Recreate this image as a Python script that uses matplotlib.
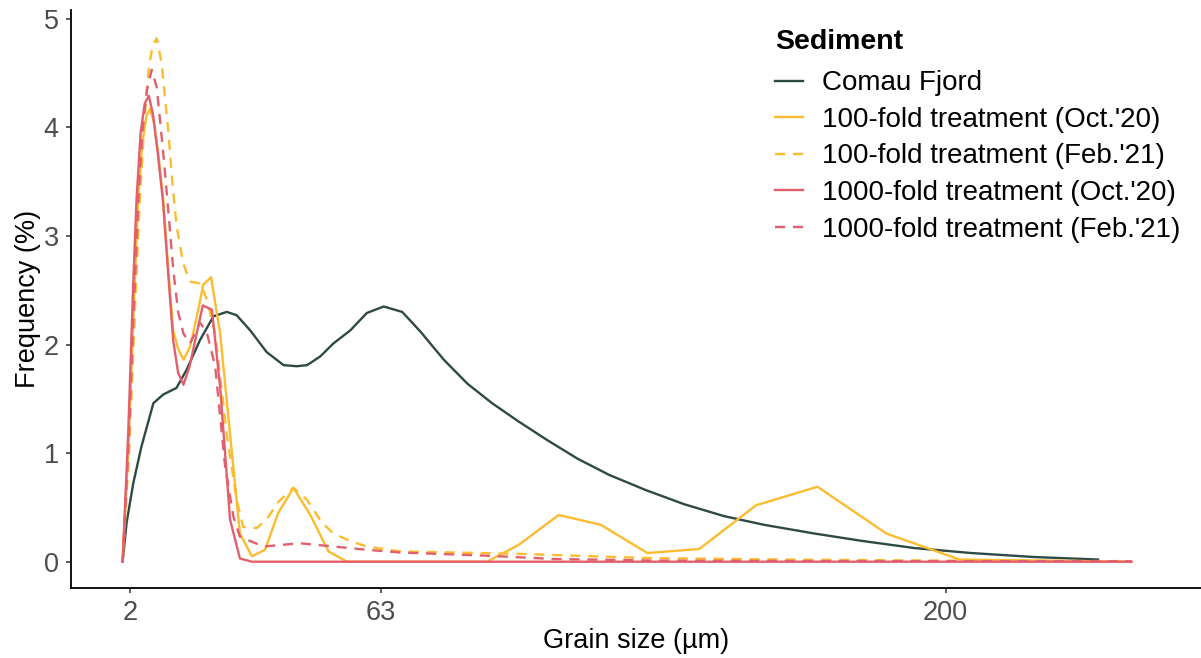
import matplotlib
matplotlib.use("Agg")
import matplotlib.pyplot as plt

plt.rcParams['font.family'] = ['Liberation Sans', 'DejaVu Sans']

# grain size (um) / frequency (%)
comau_x = [0.23, 1.2, 2.8, 4.8, 7.7, 10.1, 13.3, 15.8, 19.0, 22.3, 25.5, 27.9, 31.2,
           35.2, 39.3, 42.5, 45.0, 48.2, 51.4, 55.5, 59.5, 63.6, 68.1, 72.5, 78.2,
           83.9, 89.9, 96.4, 103.3, 110.6, 118.3, 127.2, 136.5, 146.2, 155.9, 168.1,
           180.0, 192.4, 206.2, 221.6, 237.0]
comau_y = [0, 0.36, 0.72, 1.06, 1.46, 1.54, 1.60, 1.77, 2.04, 2.26, 2.30, 2.27, 2.13,
           1.93, 1.81, 1.80, 1.81, 1.89, 2.01, 2.13, 2.29, 2.35, 2.30, 2.12, 1.86,
           1.64, 1.46, 1.29, 1.12, 0.95, 0.80, 0.66, 0.53, 0.42, 0.34, 0.26,
           0.19, 0.126, 0.08, 0.043, 0.02]

t100_oct_x = [0.23, 1.7, 3.0, 4.0, 5.0, 6.0, 6.9, 7.8, 8.9, 10.1, 11.3, 12.5, 13.7,
              15.0, 16.6, 18.2, 19.8, 21.7, 23.9, 26.3, 28.7, 31.6, 34.8, 38.0, 41.7,
              45.8, 50.2, 54.7, 88.7, 96.4, 106.1, 116.3, 127.6, 140.2, 154.0, 168.9,
              185.6, 203.4, 245.1]
t100_oct_y = [0, 1.1, 2.4, 3.33, 3.85, 4.10, 4.17, 4.05, 3.75, 3.33, 2.70, 2.13, 1.96,
              1.86, 1.98, 2.25, 2.55, 2.62, 2.10, 1.18, 0.26, 0.05, 0.11, 0.45, 0.68,
              0.43, 0.095, 0, 0, 0.156, 0.43, 0.34, 0.08, 0.117, 0.52, 0.69,
              0.26, 0.02, 0]

t100_feb_x = [0.23, 1.8, 3.2, 4.4, 5.6, 6.6, 7.5, 8.5, 9.7, 10.5, 11.3, 12.4, 13.3,
              14.9, 16.6, 19.2, 20.8, 22.7, 25.5, 27.9, 29.5, 32.8, 35.2, 38.0, 41.7,
              45.0, 48.6, 51.4, 55.5, 59.5, 67.6, 80.0, 95.1, 127.5, 160.0, 200.0, 245.1]
t100_feb_y = [0, 1.0, 2.3, 3.33, 4.1, 4.55, 4.75, 4.82, 4.59, 4.28, 3.97, 3.45, 3.10,
              2.75, 2.58, 2.56, 2.40, 2.10, 1.18, 0.57, 0.32, 0.31, 0.39, 0.55, 0.68,
              0.57, 0.36, 0.26, 0.19, 0.14, 0.095, 0.085, 0.074, 0.034, 0.02, 0.01, 0.005]

t1000_oct_x = [0.23, 1.6, 2.8, 3.6, 4.6, 5.6, 6.6, 7.6, 8.8, 10.0, 11.2, 12.5, 13.7,
               15.0, 16.5, 18.2, 19.7, 21.9, 23.9, 26.3, 28.7, 31.6, 245.1]
t1000_oct_y = [0, 1.2, 2.55, 3.33, 3.95, 4.22, 4.29, 4.12, 3.75, 3.33, 2.70, 2.04, 1.74,
               1.63, 1.80, 2.10, 2.36, 2.32, 1.61, 0.39, 0.03, 0, 0]

t1000_feb_x = [0.23, 1.7, 3.0, 4.0, 5.0, 6.1, 7.3, 8.5, 9.3, 10.1, 11.1, 12.5, 13.7,
               15.0, 16.6, 19.0, 20.6, 22.7, 25.1, 27.1, 28.7, 34.4, 43.3, 51.4, 59.5,
               67.6, 88.8, 105.0, 130.0, 180.0, 245.1]
t1000_feb_y = [0, 1.1, 2.4, 3.3, 3.95, 4.34, 4.53, 4.37, 4.07, 3.76, 3.33, 2.70, 2.30,
               2.10, 2.01, 2.20, 2.12, 1.80, 0.88, 0.42, 0.23, 0.14, 0.17, 0.14, 0.11,
               0.085, 0.055, 0.025, 0.01, 0.005, 0.005]

labels = ["Comau Fjord", "100-fold treatment (Oct.'20)", "100-fold treatment (Feb.'21)",
          "1000-fold treatment (Oct.'20)", "1000-fold treatment (Feb.'21)"]
x_breaks = [2, 63, 200]

dark = "#2E4A45"
yellow = "#FBBC30"
red = "#E2606D"
dash = (0, (4.3, 3.3))

fig = plt.figure(figsize=(12.01, 6.58), dpi=100)
ax = fig.add_axes([71 / 1201, 70 / 658, 1130 / 1201, 578 / 658])

lw = 1.7
ax.plot(comau_x, comau_y, color=dark, lw=lw, label=labels[0])
ax.plot(t100_oct_x, t100_oct_y, color=yellow, lw=lw, label=labels[1])
ax.plot(t100_feb_x, t100_feb_y, color=yellow, lw=lw, ls=dash, label=labels[2])
ax.plot(t1000_oct_x, t1000_oct_y, color=red, lw=lw, label=labels[3])
ax.plot(t1000_feb_x, t1000_feb_y, color=red, lw=lw, ls=dash, label=labels[4])

ax.set_xlim(-12.3, 262)
ax.set_ylim(-0.242, 5.08)
ax.set_xticks(x_breaks)
ax.set_yticks(range(0, 6))

for s in ['top', 'right']:
    ax.spines[s].set_visible(False)
for s in ['left', 'bottom']:
    ax.spines[s].set_linewidth(1.3)
    ax.spines[s].set_color('black')
ax.tick_params(length=3.8, width=1.1, color='#333333', labelsize=19.5,
               labelcolor='#4D4D4D', pad=5)

ax.set_xlabel("Grain size (µm)", fontsize=19.5, labelpad=1)
ax.set_ylabel("Frequency (%)", fontsize=19.5, labelpad=2)

leg = ax.legend(loc='upper left', bbox_to_anchor=(775 / 1201, 1 - 29 / 658),
                bbox_transform=fig.transFigure, frameon=False, fontsize=20,
                title="Sediment", title_fontproperties={'weight': 'bold', 'size': 20.5},
                handlelength=1.0, handletextpad=0.7, labelspacing=0.38,
                borderpad=0, borderaxespad=0)
leg._legend_box.align = "left"
leg._legend_box.sep = 11.0

fig.savefig("out.png", dpi=100)
